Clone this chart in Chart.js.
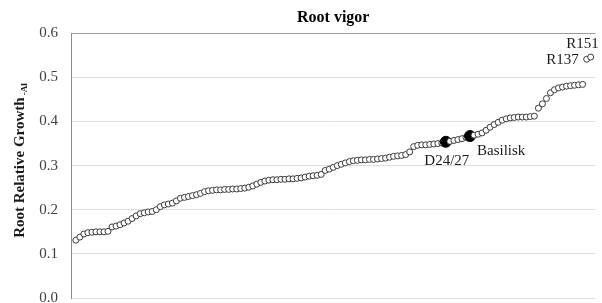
<!DOCTYPE html>
<html>
<head>
<meta charset="utf-8">
<script src="https://cdn.jsdelivr.net/npm/chart.js@4/dist/chart.umd.min.js"></script>
<style>
  html, body { margin: 0; padding: 0; background: #ffffff; overflow: hidden; }
  #wrap { width: 602px; height: 303px; overflow: hidden; position: relative; }
  canvas { display: block; }
</style>
</head>
<body>
<div id="wrap"><canvas id="c" width="602" height="320" style="width:602px;height:320px"></canvas></div>
<script>
// ---- data ----
const chartTitle = 'Root vigor';
const yAxisTitle = 'Root Relative Growth';
const yAxisSubscript = '-Al';
const yTicks = [0.0, 0.1, 0.2, 0.3, 0.4, 0.5, 0.6];

// Root relative growth of genotypes, sorted ascending (rank order)
const rootRelativeGrowth = [
  0.131, 0.138, 0.145, 0.148, 0.149, 0.150, 0.150, 0.150, 0.151, 0.161,
  0.163, 0.166, 0.170, 0.174, 0.180, 0.186, 0.191, 0.193, 0.195, 0.196,
  0.200, 0.207, 0.211, 0.213, 0.215, 0.220, 0.226, 0.228, 0.230, 0.232,
  0.234, 0.237, 0.241, 0.243, 0.244, 0.245, 0.245, 0.246, 0.246, 0.247,
  0.247, 0.248, 0.249, 0.251, 0.254, 0.258, 0.262, 0.265, 0.267, 0.268,
  0.268, 0.269, 0.269, 0.270, 0.270, 0.271, 0.272, 0.274, 0.276, 0.277,
  0.278, 0.280, 0.289, 0.292, 0.296, 0.300, 0.303, 0.306, 0.309, 0.311,
  0.312, 0.313, 0.313, 0.314, 0.314, 0.315, 0.316, 0.317, 0.319, 0.321,
  0.322, 0.323, 0.325, 0.331, 0.343, 0.346, 0.347, 0.347, 0.348, 0.349,
  0.350, 0.351, 0.354, 0.355, 0.357, 0.359, 0.361, 0.364, 0.367, 0.369,
  0.371, 0.374, 0.380, 0.387, 0.393, 0.398, 0.403, 0.406, 0.408, 0.409,
  0.410, 0.410, 0.410, 0.411, 0.412, 0.430, 0.440, 0.452, 0.465, 0.472,
  0.476, 0.478, 0.480, 0.481, 0.482, 0.483, 0.484, 0.541, 0.546
];
const rank = rootRelativeGrowth.map((v, i) => i + 1);

// named genotypes (rank position, 1-based)
const namedGenotypes = ['D24/27', 'Basilisk', 'R137', 'R151'];
const namedRanks     = [93, 99, 128, 129];
const filledGenotypes = ['D24/27', 'Basilisk'];

// ---- chart ----
const filledRanks = namedRanks.filter((r, i) => filledGenotypes.includes(namedGenotypes[i]));
const points = rank.map((r, i) => ({ x: r, y: rootRelativeGrowth[i] }));

const serif = '"Liberation Serif", "Times New Roman", serif';

const yTitlePlugin = {
  id: 'yTitle',
  afterDraw(chart) {
    const ctx = chart.ctx;
    const area = chart.chartArea;
    ctx.save();
    ctx.fillStyle = '#1a1a1a';
    ctx.textBaseline = 'alphabetic';
    ctx.font = 'bold 15px ' + serif;
    const wMain = ctx.measureText(yAxisTitle).width;
    ctx.font = 'bold 9px ' + serif;
    const wSub = ctx.measureText(yAxisSubscript).width;
    const total = wMain + 2 + wSub;
    const cy = (area.top + area.bottom) / 2 - 5;
    ctx.translate(24, cy + total / 2);
    ctx.rotate(-Math.PI / 2);
    ctx.font = 'bold 15px ' + serif;
    ctx.textAlign = 'left';
    ctx.fillText(yAxisTitle, 0, 0);
    ctx.font = 'bold 9px ' + serif;
    ctx.fillText(yAxisSubscript, wMain + 2, 3);
    ctx.restore();
  }
};

const labelPlugin = {
  id: 'pointLabels',
  afterDatasetsDraw(chart) {
    const ctx = chart.ctx;
    const meta = chart.getDatasetMeta(0);
    ctx.save();
    ctx.font = '15px ' + serif;
    ctx.fillStyle = '#1a1a1a';
    ctx.textBaseline = 'middle';
    namedGenotypes.forEach((name, k) => {
      const el = meta.data[namedRanks[k] - 1];
      if (!el) return;
      const px = el.x, py = el.y;
      if (name === 'D24/27') {
        ctx.textAlign = 'center';
        ctx.fillText(name, px + 1, py + 19);
      } else if (name === 'Basilisk') {
        ctx.textAlign = 'left';
        ctx.fillText(name, px + 7, py + 15);
      } else if (name === 'R137') {
        ctx.textAlign = 'right';
        ctx.fillText(name, px - 8, py + 1);
      } else if (name === 'R151') {
        ctx.textAlign = 'right';
        ctx.fillText(name, px + 8, py - 13);
      }
    });
    ctx.restore();
  }
};

new Chart(document.getElementById('c'), {
  type: 'scatter',
  data: {
    datasets: [{
      label: 'Root vigor',
      data: points,
      pointRadius: ctx => filledRanks.includes(ctx.raw ? ctx.raw.x : -1) ? 5.5 : 3,
      pointBackgroundColor: ctx => filledRanks.includes(ctx.raw ? ctx.raw.x : -1) ? '#000000' : '#ffffff',
      pointBorderColor: ctx => filledRanks.includes(ctx.raw ? ctx.raw.x : -1) ? '#000000' : '#3a3a3a',
      pointBorderWidth: 1,
      pointHoverRadius: 3,
      showLine: false
    }]
  },
  options: {
    responsive: false,
    animation: false,
    devicePixelRatio: 1,
    layout: { padding: { left: 0, right: 0, top: 0, bottom: 21 } },
    plugins: {
      legend: { display: false },
      tooltip: { enabled: false },
      title: {
        display: true,
        text: chartTitle,
        fullSize: false,
        color: '#000000',
        font: { family: serif, size: 16, weight: 'bold', lineHeight: 1.2 },
        padding: { top: 8, bottom: 6 }
      }
    },
    scales: {
      x: {
        type: 'linear',
        display: false,
        min: -0.2,
        max: 130.2
      },
      y: {
        min: 0,
        max: 0.6,
        afterFit(scale) { scale.width = 71; },
        afterBuildTicks(scale) { scale.ticks = yTicks.map(v => ({ value: v })); },
        ticks: {
          padding: 13,
          color: '#404040',
          font: { family: serif, size: 15 },
          callback: v => Number(v).toFixed(1)
        },
        grid: {
          drawTicks: false,
          lineWidth: 1,
          color: ctx => (ctx.tick && Math.abs(ctx.tick.value - 0.6) < 1e-9) ? '#9a9a9a' : '#dedede'
        },
        border: { display: true, color: '#8c8c8c', width: 1 }
      }
    }
  },
  plugins: [yTitlePlugin, labelPlugin]
});
</script>
</body>
</html>
